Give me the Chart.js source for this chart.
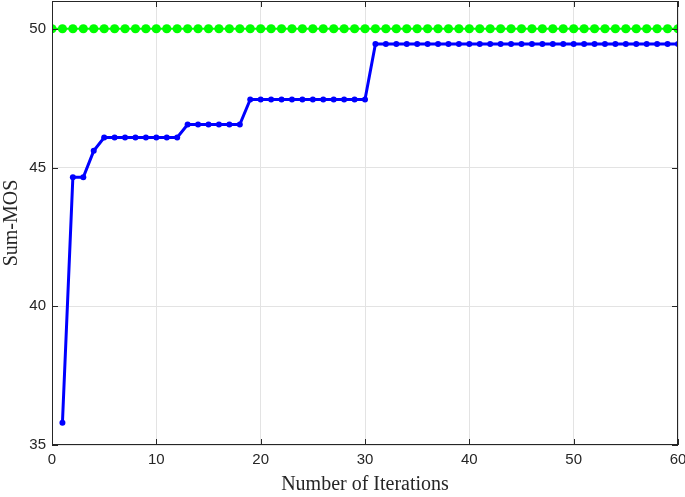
<!DOCTYPE html>
<html>
<head>
<meta charset="utf-8">
<script src="https://cdn.jsdelivr.net/npm/chart.js@4"></script>
<style>
  html, body { margin: 0; padding: 0; background: #fff; }
  #wrap { width: 685px; height: 497px; }
</style>
</head>
<body>
<div id="wrap"><canvas id="c" width="685" height="497"></canvas></div>
<script>
// iterations 1..60
const iterations = [
    1, 2, 3, 4, 5, 6, 7, 8, 9, 10, 11, 12, 13, 14, 15, 16, 17, 18, 19, 20,
    21, 22, 23, 24, 25, 26, 27, 28, 29, 30, 31, 32, 33, 34, 35, 36, 37, 38, 39, 40,
    41, 42, 43, 44, 45, 46, 47, 48, 49, 50, 51, 52, 53, 54, 55, 56, 57, 58, 59, 60
];
const sumMos = [
    35.8, 44.65, 44.65, 45.6, 46.08, 46.08, 46.08, 46.08, 46.08, 46.08,
    46.08, 46.08, 46.55, 46.55, 46.55, 46.55, 46.55, 46.55, 47.45, 47.45,
    47.45, 47.45, 47.45, 47.45, 47.45, 47.45, 47.45, 47.45, 47.45, 47.45,
    49.45, 49.45, 49.45, 49.45, 49.45, 49.45, 49.45, 49.45, 49.45, 49.45,
    49.45, 49.45, 49.45, 49.45, 49.45, 49.45, 49.45, 49.45, 49.45, 49.45,
    49.45, 49.45, 49.45, 49.45, 49.45, 49.45, 49.45, 49.45, 49.45, 49.45
];
// upper bound, drawn from iteration 0
const boundIterations = [0].concat(iterations);
const boundMos = [
    50, 50, 50, 50, 50, 50, 50, 50, 50, 50, 50,
    50, 50, 50, 50, 50, 50, 50, 50, 50, 50,
    50, 50, 50, 50, 50, 50, 50, 50, 50, 50,
    50, 50, 50, 50, 50, 50, 50, 50, 50, 50,
    50, 50, 50, 50, 50, 50, 50, 50, 50, 50,
    50, 50, 50, 50, 50, 50, 50, 50, 50, 50
];
const xTicks = [0, 10, 20, 30, 40, 50, 60];
const yTicks = [35, 40, 45, 50];

const axisColor = "#262626";

function toPoints(xs, ys) {
    return xs.map((x, i) => ({ x: x, y: ys[i] }));
}

// box round the plot with inward ticks, like the original figure
const boxPlugin = {
    id: "box",
    afterDatasetsDraw(chart) {
        const { ctx, chartArea: a, scales } = chart;
        ctx.save();
        ctx.strokeStyle = axisColor;
        ctx.lineWidth = 1;
        ctx.strokeRect(a.left + 0.5, a.top + 0.5, a.right - a.left - 1, a.bottom - a.top - 1);
        ctx.beginPath();
        xTicks.forEach(v => {
            const px = Math.round(scales.x.getPixelForValue(v)) + 0.5;
            ctx.moveTo(px, a.bottom); ctx.lineTo(px, a.bottom - 6);
            ctx.moveTo(px, a.top); ctx.lineTo(px, a.top + 6);
        });
        yTicks.forEach(v => {
            const py = Math.round(scales.y.getPixelForValue(v)) + 0.5;
            ctx.moveTo(a.left, py); ctx.lineTo(a.left + 6, py);
            ctx.moveTo(a.right, py); ctx.lineTo(a.right - 6, py);
        });
        ctx.stroke();
        ctx.restore();
    }
};

new Chart(document.getElementById("c"), {
    type: "line",
    data: {
        datasets: [{
            label: "Upper bound",
            data: toPoints(boundIterations, boundMos),
            borderColor: "#00ff00",
            backgroundColor: "#00ff00",
            borderWidth: 2,
            pointRadius: 4.6,
            pointBorderWidth: 0,
            fill: false
        }, {
            label: "Sum-MOS",
            data: toPoints(iterations, sumMos),
            borderColor: "#0000ff",
            backgroundColor: "#0000ff",
            borderWidth: 3,
            pointRadius: 3,
            pointBorderWidth: 0,
            fill: false
        }]
    },
    options: {
        responsive: false,
        animation: false,
        layout: { autoPadding: false, padding: { top: 1, right: 7, left: 0, bottom: 0 } },
        plugins: {
            legend: { display: false },
            tooltip: { enabled: false }
        },
        scales: {
            x: {
                type: "linear",
                min: 0,
                max: 60,
                afterBuildTicks: s => { s.ticks = xTicks.map(v => ({ value: v })); },
                afterFit: s => {
                    s.height = 52;
                    s.paddingLeft = 0;
                    s.paddingRight = 0;
                },
                grid: { color: "#e3e3e3", drawTicks: false },
                border: { display: false },
                ticks: {
                    color: axisColor,
                    padding: 6,
                    maxRotation: 0,
                    font: { family: "Liberation Sans", size: 15 }
                },
                title: {
                    display: true,
                    text: "Number of Iterations",
                    color: axisColor,
                    padding: { top: 0, bottom: 0 },
                    font: { family: "Liberation Serif", size: 20 }
                }
            },
            y: {
                min: 35,
                max: 51,
                afterBuildTicks: s => { s.ticks = yTicks.map(v => ({ value: v })); },
                afterFit: s => {
                    s.width = 52;
                    s.paddingTop = 0;
                    s.paddingBottom = 0;
                },
                grid: { color: "#e3e3e3", drawTicks: false },
                border: { display: false },
                ticks: {
                    color: axisColor,
                    padding: 6,
                    font: { family: "Liberation Sans", size: 15 }
                },
                title: {
                    display: true,
                    text: "Sum-MOS",
                    color: axisColor,
                    padding: { top: 0, bottom: 2 },
                    font: { family: "Liberation Serif", size: 20 }
                }
            }
        }
    },
    plugins: [boxPlugin]
});
</script>
</body>
</html>
